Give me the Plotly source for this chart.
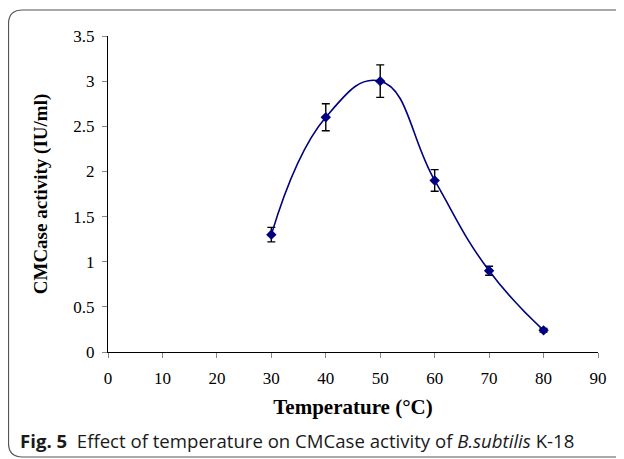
import plotly.graph_objects as go

temperature = [30, 40, 50, 60, 70, 80]
activity = [1.3, 2.6, 3.0, 1.9, 0.9, 0.24]
error = [0.08, 0.15, 0.18, 0.12, 0.05, 0.02]
x_ticks = [0, 10, 20, 30, 40, 50, 60, 70, 80, 90]
y_ticks = [0, 0.5, 1, 1.5, 2, 2.5, 3, 3.5]
y_tick_text = ["0", "0.5", "1", "1.5", "2", "2.5", "3", "3.5"]

# page body has an 8px margin, so figure coords = page coords - 8
W, H = 616, 451
L, R, T, B = 100, 26, 28, 107
pw, ph = W - L - R, H - T - B

def px(x):
    return (x - L) / pw

def py(y):
    return (H - B - y) / ph

fig = go.Figure()
fig.add_trace(go.Scatter(
    x=temperature, y=activity, mode="lines+markers",
    line=dict(color="#000080", width=1.6, shape="spline", smoothing=1.3),
    marker=dict(symbol="diamond", size=8, color="#000080"),
    error_y=dict(type="data", array=error, visible=True, color="black", thickness=1.4, width=4),
    showlegend=False,
))

# rounded border
x0, x1, y0, y1, r = 0.5, 640, 2, 449, 14
path = (f"M {px(x0)},{py(y0 + r)} Q {px(x0)},{py(y0)} {px(x0 + r)},{py(y0)} "
        f"L {px(x1)},{py(y0)} M {px(x0)},{py(y0 + r)} L {px(x0)},{py(y1 - r)} "
        f"Q {px(x0)},{py(y1)} {px(x0 + r)},{py(y1)} L {px(x1)},{py(y1)}")
fig.add_shape(type="path", path=path, xref="paper", yref="paper",
              line=dict(color="#555555", width=1.2))

fig.add_annotation(
    text="<b>Fig. 5</b>  Effect of temperature on CMCase activity of <i>B.subtilis</i> K-18",
    xref="paper", yref="paper", x=px(10), y=py(432), xanchor="left", yanchor="middle",
    showarrow=False, font=dict(family="Open Sans", size=18.6, color="#1a1a1a"))

fig.update_layout(
    width=W, height=H,
    margin=dict(l=L, r=R, t=T, b=B),
    paper_bgcolor="white", plot_bgcolor="white",
    font=dict(family="Liberation Serif", size=17, color="black"),
    xaxis=dict(range=[0, 90], tickvals=x_ticks, ticks="outside", ticklen=5, tickcolor="#888888",
               ticklabelstandoff=5,
               showline=True, linecolor="black", linewidth=1.2, showgrid=False, zeroline=False,
               title=dict(text="<b>Temperature (°C)</b>", font=dict(size=21), standoff=12)),
    yaxis=dict(range=[0, 3.5], tickvals=y_ticks, ticktext=y_tick_text, ticks="outside", ticklen=5,
               tickcolor="#888888", ticklabelstandoff=4,
               showline=True, linecolor="black", linewidth=1.2, showgrid=False,
               zeroline=False,
               title=dict(text="<b>CMCase activity (IU/ml)</b>", font=dict(size=19), standoff=20)),
)

fig.write_html("out.html")
